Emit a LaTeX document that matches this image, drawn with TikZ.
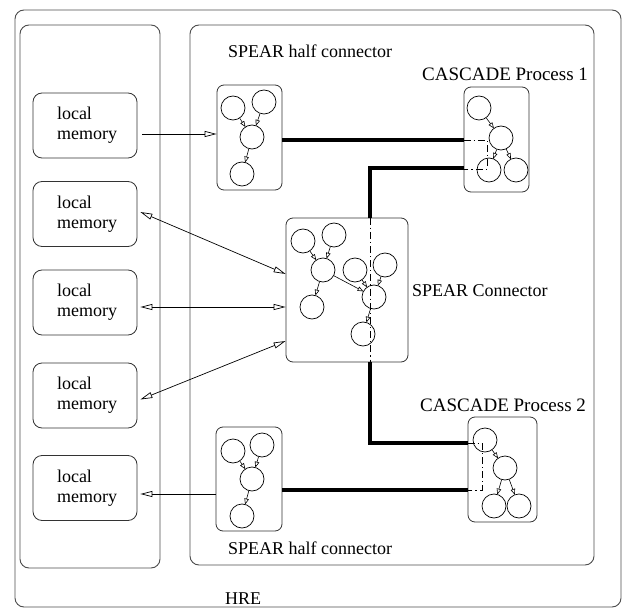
\documentclass[tikz,border=0pt]{standalone}
\usepackage{fontspec}
\setmainfont{Liberation Serif}
\usetikzlibrary{arrows.meta,calc}

\tikzset{
  frame/.style={draw=black!70, line width=0.9pt, rounded corners=9pt},
  mem/.style={draw=black!80, line width=0.8pt, rounded corners=9pt,
    minimum width=104pt, minimum height=65pt, inner sep=0pt,
    align=left, font=\fontsize{18}{20}\selectfont},
  proc/.style={draw=black!80, line width=0.8pt, rounded corners=7pt, inner sep=0pt},
  st/.style={circle, draw, line width=0.7pt, minimum size=24pt, inner sep=0pt},
  flow/.style={-{Triangle[open,length=6pt,width=4.5pt]}, line width=0.6pt, shorten >=-0.5pt},
  one/.style={-{Triangle[open,length=12pt,width=6pt]}, line width=0.7pt},
  two/.style={{Triangle[open,length=12pt,width=6pt]}-{Triangle[open,length=12pt,width=6pt]}, line width=0.7pt},
  bus/.style={line width=4pt},
  axis/.style={dash pattern=on 7pt off 3pt on 1.2pt off 3pt, line width=0.8pt},
  lbl/.style={font=\fontsize{18}{20}\selectfont, inner sep=0pt, anchor=base west},
  biglbl/.style={font=\fontsize{19}{21}\selectfont, inner sep=0pt, anchor=base west}
}

\begin{document}
\begin{tikzpicture}[x=1pt,y=-1pt]
\useasboundingbox (0,0) rectangle (623,612);

% frames
\draw[frame] (15,10) rectangle (621,607);
\draw[frame] (20,25) rectangle (160,568);
\draw[frame] (190,25) rectangle (594,565);

% local memories
\node[mem] (mem1) at (85,125.5) {\hspace*{4pt}local\\\hspace*{4pt}memory};
\node[mem] (mem2) at (85,214)   {\hspace*{4pt}local\\\hspace*{4pt}memory};
\node[mem] (mem3) at (85,302.5) {\hspace*{4pt}local\\\hspace*{4pt}memory};
\node[mem] (mem4) at (85,395.5) {\hspace*{4pt}local\\\hspace*{4pt}memory};
\node[mem] (mem5) at (85,488)   {\hspace*{4pt}local\\\hspace*{4pt}memory};

% process boxes
\node[proc, minimum width=65pt, minimum height=105pt] (hc1) at (249.5,137.5) {};
\node[proc, minimum width=65pt, minimum height=105pt] (p1) at (496.5,139.5) {};
\node[proc, minimum width=122pt, minimum height=144pt] (conn) at (347,290) {};
\node[proc, minimum width=69pt, minimum height=105pt] (p2) at (502.5,469.5) {};
\node[proc, minimum width=66pt, minimum height=104pt] (hc2) at (249,479) {};

% bus routing points
\coordinate (ax1) at (370,168);
\coordinate (ax2) at (370,443);
\coordinate (lo) at (0,490);
\coordinate (up) at (0,140);

% thick buses
\draw[bus] (hc1.east |- up) -- (p1.west |- up);
\draw[bus] (p1.west |- ax1) -- (ax1) -- (ax1 |- conn.north);
\draw[bus] (ax1 |- conn.south) -- (ax2) -- (ax2 -| p2.west);
\draw[bus] (hc2.east |- lo) -- (p2.west |- lo);

% dash-dot continuations inside the boxes
\coordinate (q1) at (487,140);
\coordinate (q2) at (487,169);
\draw[axis] (p1.west |- q1) -- (q1) -- (q2) -- (p1.west |- q2);
\draw[axis] (ax1 |- conn.north) -- (ax1 |- conn.south);
\coordinate (q3) at (482,443);
\coordinate (q4) at (482,490);
\draw[axis] (p2.west |- q3) -- (q3) -- (q4) -- (p2.west |- q4);

% upper half connector
\node[st] (c1) at (233,108) {};
\node[st] (c2) at (264,102) {};
\node[st] (c3) at (252,137) {};
\node[st] (c4) at (242,174) {};
\draw[flow] (c1) -- (c3);
\draw[flow] (c2) -- (c3);
\draw[flow] (c3) -- (c4);

% CASCADE process 1
\node[st] (a1) at (479,108) {};
\node[st] (a2) at (501,138) {};
\node[st] (a3) at (489,170) {};
\node[st] (a4) at (516,170) {};
\draw[flow] (a1) -- (a2);
\draw[flow] (a2) -- (a3);
\draw[flow] (a2) -- (a4);

% SPEAR connector
\node[st] (b1) at (303,241) {};
\node[st] (b2) at (334,235) {};
\node[st] (b3) at (323,270) {};
\node[st] (b4) at (312,307) {};
\node[st] (b5) at (355,270) {};
\node[st] (b6) at (385,265) {};
\node[st] (b7) at (374,297) {};
\node[st] (b8) at (363,334) {};
\draw[flow] (b1) -- (b3);
\draw[flow] (b2) -- (b3);
\draw[flow] (b3) -- (b4);
\draw[flow] (b3) -- (b7);
\draw[flow] (b5) -- (b7);
\draw[flow] (b6) -- (b7);
\draw[flow] (b7) -- (b8);

% CASCADE process 2
\node[st] (d1) at (485,440) {};
\node[st] (d2) at (505,468) {};
\node[st] (d3) at (494,506) {};
\node[st] (d4) at (519,506) {};
\draw[flow] (d1) -- (d2);
\draw[flow] (d2) -- (d3);
\draw[flow] (d2) -- (d4);

% lower half connector
\node[st] (e1) at (233,451) {};
\node[st] (e2) at (262,445) {};
\node[st] (e3) at (252,479) {};
\node[st] (e4) at (242,516) {};
\draw[flow] (e1) -- (e3);
\draw[flow] (e2) -- (e3);
\draw[flow] (e3) -- (e4);

% memory links
\coordinate (r1) at (0,134);
\draw[one] ($(mem1.east |- r1)+(5,0)$) -- (hc1.west |- r1);
\draw[two] ($(mem2.east)+(3,-2)$) -- ($(conn.west)+(0,-16)$);
\coordinate (r3) at (0,307);
\draw[two] ($(mem3.east |- r3)+(3,0)$) -- (conn.west |- r3);
\draw[two] ($(mem4.east)+(3,4)$) -- ($(conn.west)+(0,51)$);
\coordinate (r5) at (0,494);
\draw[one] (hc2.west |- r5) -- ($(mem5.east |- r5)+(3,0)$);

% labels
\node[lbl] (t1) at (228,58) {SPEAR half connector};
\node[biglbl] (t2) at (422,81) {CASCADE Process 1};
\node[lbl] (t3) at (412,296) {SPEAR Connector};
\node[biglbl] (t4) at (420,411) {CASCADE Process 2};
\node[lbl] (t5) at (228,554) {SPEAR half connector};
\node[lbl] (t6) at (225,604) {HRE};
\end{tikzpicture}
\end{document}
